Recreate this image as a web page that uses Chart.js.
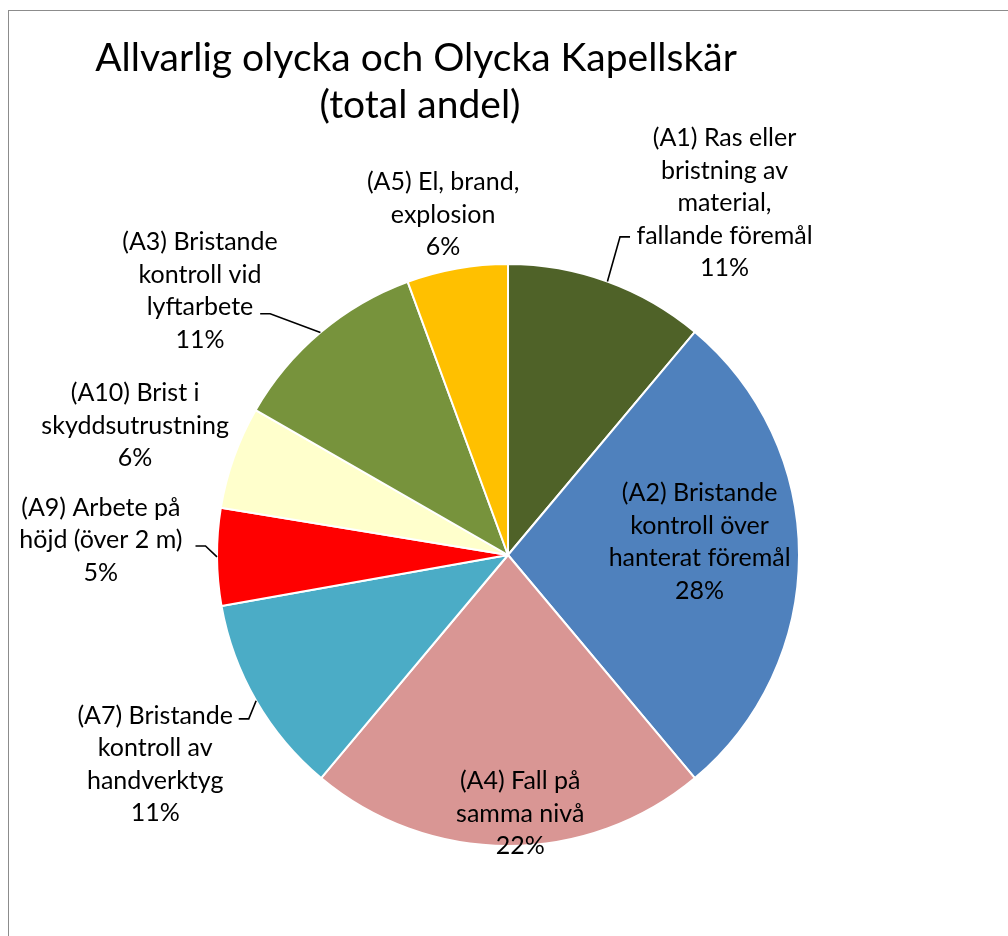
<!DOCTYPE html>
<html>
<head>
<meta charset="utf-8">
<script src="https://cdn.jsdelivr.net/npm/chart.js@4/dist/chart.umd.min.js"></script>
<style>
  html, body { margin: 0; padding: 0; background: #fff; overflow: hidden; }
  #frame { position: absolute; left: 8px; top: 10px; width: 1200px; height: 1100px; border: 1px solid #8c8c8c; }
  #wrap { position: absolute; left: 0; top: 0; width: 1008px; height: 936px; }
</style>
</head>
<body>
<div id="frame"></div>
<div id="wrap"><canvas id="chart1" width="1008" height="936"></canvas></div>
<script>
// slices, clockwise from 12 o'clock
let categories = [
  ['(A1) Ras eller', 'bristning av', 'material,', 'fallande föremål'],
  ['(A2) Bristande', 'kontroll över', 'hanterat föremål'],
  ['(A4) Fall på', 'samma nivå'],
  ['(A7) Bristande', 'kontroll av', 'handverktyg'],
  ['(A9) Arbete på', 'höjd (över 2 m)'],
  ['(A10) Brist i', 'skyddsutrustning'],
  ['(A3) Bristande', 'kontroll vid', 'lyftarbete'],
  ['(A5) El, brand,', 'explosion']
];
let values = [11.1, 27.8, 22.2, 11.1, 5.4, 5.7, 11.1, 5.6];
let colors = ['#4F6228', '#4F81BD', '#D99694', '#4BACC6', '#FF0000', '#FFFFCC', '#77933C', '#FFC000'];
let titleLines = ['Allvarlig olycka och Olycka Kapellskär', '(total andel)'];

// label centre: angle (deg from top, clockwise) and distance in pie radii
// leader: elbow point [angle, distance] before the short horizontal tick
let labelPlace = [
  { angle: 31.6, dist: 1.42, leader: [19.4, 1.159] },
  { angle: 86.1, dist: 0.66 },
  { angle: 177.3, dist: 0.89 },
  { angle: 239.3, dist: 1.41, leader: [237.7, 1.054] },
  { angle: 272.1, dist: 1.40, leader: [271.7, 1.04] },
  { angle: 289.1, dist: 1.356 },
  { angle: 310.6, dist: 1.394, leader: [315.4, 1.164] },
  { angle: 349.2, dist: 1.19 }
];

const fontFamily = 'Lato, "Open Sans", sans-serif';
const labelFont = '25px ' + fontFamily;
const lineH = 32.5;

const rad = d => d * Math.PI / 180 - Math.PI / 2;

const labelPlugin = {
  id: 'sliceLabels',
  afterDatasetsDraw(chart) {
    const ctx = chart.ctx;
    const meta = chart.getDatasetMeta(0);
    const total = values.reduce((a, b) => a + b, 0);
    ctx.save();
    ctx.font = labelFont;
    ctx.fillStyle = '#000';
    ctx.textAlign = 'center';
    ctx.textBaseline = 'middle';
    meta.data.forEach((arc, i) => {
      const p = arc.getProps(['x', 'y', 'outerRadius', 'startAngle', 'endAngle'], true);
      const pl = labelPlace[i];
      const a = rad(pl.angle);
      const lx = p.x + Math.cos(a) * p.outerRadius * pl.dist;
      const ly = p.y + Math.sin(a) * p.outerRadius * pl.dist;
      const lines = categories[i].concat([Math.round(values[i] / total * 100) + '%']);
      const top = ly - (lines.length - 1) * lineH / 2;
      lines.forEach((t, j) => ctx.fillText(t, lx, top + j * lineH));

      if (pl.leader) {
        const mid = (p.startAngle + p.endAngle) / 2;
        const x0 = p.x + Math.cos(mid) * p.outerRadius;
        const y0 = p.y + Math.sin(mid) * p.outerRadius;
        const ea = rad(pl.leader[0]);
        const x1 = p.x + Math.cos(ea) * p.outerRadius * pl.leader[1];
        const y1 = p.y + Math.sin(ea) * p.outerRadius * pl.leader[1];
        const x2 = x1 + (lx > x1 ? 10 : -10);
        ctx.beginPath();
        ctx.strokeStyle = '#000';
        ctx.lineWidth = 1.6;
        ctx.moveTo(x0, y0);
        ctx.lineTo(x1, y1);
        ctx.lineTo(x2, y1);
        ctx.stroke();
      }
    });
    ctx.restore();
  }
};

const titlePlugin = {
  id: 'bigTitle',
  afterDraw(chart) {
    const ctx = chart.ctx;
    ctx.save();
    ctx.font = '39px ' + fontFamily;
    ctx.fillStyle = '#000';
    ctx.textAlign = 'center';
    ctx.textBaseline = 'middle';
    ctx.fillText(titleLines[0], 416, 58);
    ctx.fillText(titleLines[1], 420, 105);
    ctx.restore();
  }
};

document.addEventListener('DOMContentLoaded', function () {
  const ctx = document.getElementById('chart1').getContext('2d');
  new Chart(ctx, {
    type: 'pie',
    data: {
      labels: categories.map(c => c.join(' ')),
      datasets: [{
        data: values,
        backgroundColor: colors,
        borderColor: '#fff',
        borderWidth: 2,
        radius: 291
      }]
    },
    options: {
      responsive: false,
      animation: false,
      layout: { padding: { left: 217, right: 209, top: 264, bottom: 90 } },
      plugins: {
        legend: { display: false },
        tooltip: { enabled: false },
        title: { display: false }
      }
    },
    plugins: [labelPlugin, titlePlugin]
  });
});
</script>
</body>
</html>
